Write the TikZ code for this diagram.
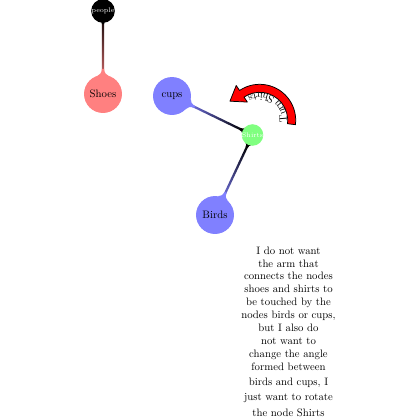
\documentclass[tikz,border=0pt]{standalone}
\usetikzlibrary{calc,backgrounds}
\tikzset{
  bignode/.style={circle, inner sep=0pt, minimum size=35.3pt, text=black, font=\normalsize},
  smallnode/.style={circle, inner sep=0pt, minimum size=18.6pt, text=white, font=\fontsize{6.2}{7}\selectfont},
  arrowband/.style={fill=red, draw=black, line width=0.7pt, line join=round},
  arcletter/.style={anchor=base, inner sep=0pt, font=\normalsize},
  notetext/.style={align=center, anchor=north, inner sep=0pt, font=\normalsize}
}
% bar between two named nodes, shaded from colour #3 (at #1) to #4 (at #2)
\newcommand{\mmbar}[5]{%
  \shade[top color=#3, bottom color=#4, shading angle=#5]
    ($(#1.center)!1.05pt!90:(#2.center)$) --
    ($(#2.center)!1.05pt!-90:(#1.center)$) --
    ($(#2.center)!1.05pt!90:(#1.center)$) --
    ($(#1.center)!1.05pt!-90:(#2.center)$) -- cycle;}
% flare where a bar meets a node: node, direction, radius, colour
\newcommand{\mmflare}[4]{%
  \begin{scope}[shift={(#1.center)}, rotate=#2]
    \fill[#4] ({1.32*#3},1.1) .. controls ({1.12*#3},1.1) and
      ({#3*cos(17)+0.11*#3*sin(17)},{#3*sin(17)-0.11*#3*cos(17)}) .. (17:#3)
      -- (-17:#3) .. controls
      ({#3*cos(17)+0.11*#3*sin(17)},{-#3*sin(17)+0.11*#3*cos(17)}) and
      ({1.12*#3},-1.1) .. ({1.32*#3},-1.1) -- cycle;
  \end{scope}}
\begin{document}
\begin{tikzpicture}[x=0.93pt,y=0.93pt]
\useasboundingbox (0,0) rectangle (420,-420);

\node[smallnode, fill=black] (people) at (103,-11) {people};
\node[bignode, fill=red!50] (shoes) at (103,-94) {Shoes};
\node[bignode, fill=blue!50] (cups) at (172,-96) {cups};
\node[smallnode, fill=green!50, minimum size=19.5pt] (shirts) at (252.5,-135) {Shirts};
\node[bignode, fill=blue!50] (birds) at (215,-215) {Birds};

\begin{pgfonlayer}{background}
  \mmbar{people}{shoes}{black}{red!50}{0}
  \mmbar{cups}{shirts}{blue!50}{black}{64.15}
  \mmbar{shirts}{birds}{black}{blue!50}{-25.12}
  \mmflare{people}{-90}{10}{black}
  \mmflare{shoes}{90}{19}{red!50}
  \mmflare{cups}{-25.85}{19}{blue!50}
  \mmflare{shirts}{154.15}{10.5}{black}
  \mmflare{shirts}{-115.12}{10.5}{black}
  \mmflare{birds}{64.88}{19}{blue!50}
\end{pgfonlayer}

\coordinate (arcc) at (259.7,-120.3);
\filldraw[arrowband] ($(arcc)+(-7:28)$) arc[start angle=-7, end angle=124, radius=28]
  -- ($(arcc)+(124:22)$) -- ($(arcc)+(124:32)+(212:14)$) -- ($(arcc)+(124:42)$)
  -- ($(arcc)+(124:36)$) arc[start angle=124, end angle=-7, radius=36] -- cycle;
\foreach \a/\c [count=\i] in {4.53/T, 19.62/u, 30.82/r, 42.01/n, 63.01/S, 76.14/h,
    85.99/i, 93.90/r, 103.14/t, 112.38/s}
  \node[arcletter, rotate=\a+90] (turn\i) at ($(arcc)+(\a:27.3)$) {\c};

\node[notetext] (note) at (288.5,-246.5) {I do not want\\ the arm that\\ connects the nodes\\
  shoes and shirts to\\ be touched by the\\ nodes birds or cups,\\ but I also do\\
  not want to\\ change the angle\\ formed between\\[2.2pt] birds and cups, I\\[2.2pt]
  just want to rotate\\[2.2pt] the node Shirts};
\end{tikzpicture}
\end{document}
